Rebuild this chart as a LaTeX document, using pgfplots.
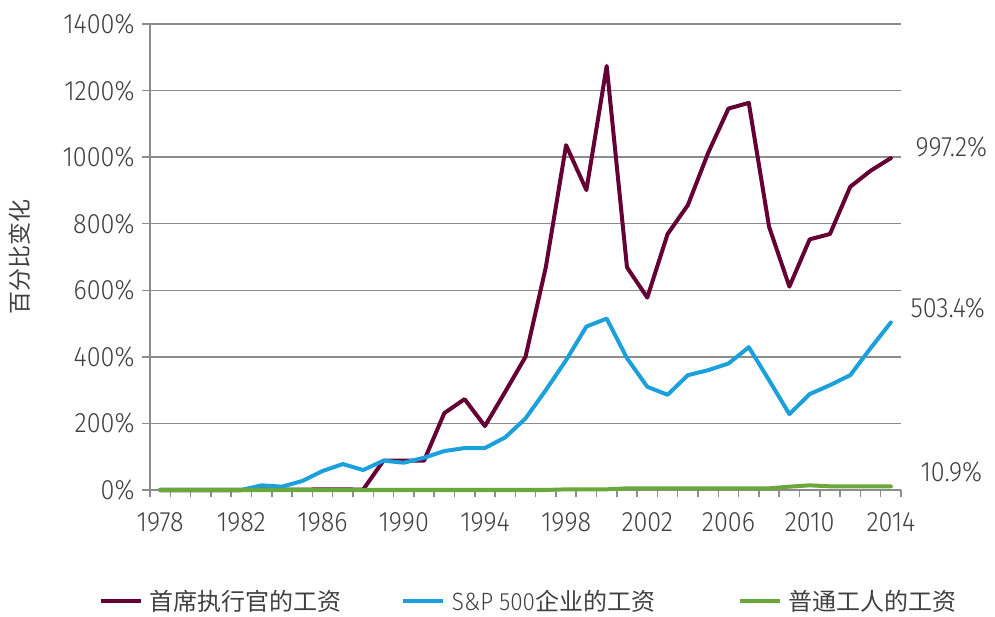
\documentclass[border=0pt]{standalone}
\usepackage{pgfplots}
\pgfplotsset{compat=1.18}
\usepackage{fontspec}
\setmainfont{Fira Sans Light}[FakeStretch=0.9]
\newfontfamily\cjk{Noto Sans CJK SC}
\definecolor{ceo}{RGB}{100,0,52}
\definecolor{sp}{RGB}{27,160,220}
\definecolor{wk}{RGB}{106,168,60}
\definecolor{txt}{RGB}{64,64,64}
\definecolor{gridc}{RGB}{140,140,140}
\newcommand\numfont{\fontsize{28bp}{32bp}\selectfont\color{txt}}
\newcommand\cjkfont{\fontsize{23bp}{27bp}\selectfont\cjk\color{txt}}
\newcommand\legfont{\fontsize{24bp}{27bp}\selectfont\cjk\color{txt}}
\begin{document}
\begin{tikzpicture}
\path[use as bounding box] (0,0) rectangle (995bp,617bp);
\begin{axis}[
  at={(150bp,127bp)}, anchor=south west,
  scale only axis, width=751bp, height=466bp,
  xmin=1977.5, xmax=2014.5, ymin=0, ymax=1400,
  clip=false,
  axis x line*=bottom, axis y line*=left,
  axis line style={gridc, line width=1.5bp},
  ytick={0,200,...,1400},
  yticklabel={\pgfmathprintnumber{\tick}\%},
  xtick={1978,1982,...,2014},
  minor xtick={1977.5,1978.5,...,2014.5},
  tick align=outside,
  major tick length=8bp, minor tick length=7bp,
  x tick style={draw=none},
  minor x tick style={draw=gridc, line width=1.5bp},
  y tick style={gridc, line width=1.5bp},
  ymajorgrids, grid style={gridc, line width=1.5bp},
  /pgf/number format/1000 sep={},
  /pgf/number format/assume math mode=true,
  ticklabel style={font=\numfont},
  xticklabel style={yshift=-11bp},
  yticklabel style={xshift=-4bp},
  ylabel={\cjkfont 百分比变化},
  ylabel style={at={(axis description cs:-0.173,0.5)}, anchor=center},
  legend columns=3,
  legend cell align=left,
  legend style={at={(axis description cs:-0.0680,-0.2390)}, anchor=west,
    draw=none, fill=none, inner sep=0pt, outer sep=0pt,
    /tikz/every even column/.style={column sep=0pt},
    nodes={inner sep=0pt, anchor=west}},
  legend image code/.code={\draw[#1, line width=4bp, line cap=butt] (0bp,0bp) -- (40bp,0bp); \path[draw=none] (49bp,0bp) -- (49bp,0bp);},
  every axis plot/.append style={line width=4bp, line join=round, line cap=round},
]
\addplot[ceo] coordinates {
(1978,0) (1979,0) (1980,0) (1981,0) (1982,0) (1983,2) (1984,1) (1985,1) (1986,2) (1987,2)
(1988,1) (1989,88) (1990,88) (1991,88) (1992,231) (1993,273) (1994,192) (1995,295) (1996,400) (1997,669)
(1998,1036) (1999,901) (2000,1274) (2001,669) (2002,578) (2003,769) (2004,856) (2005,1013) (2006,1146) (2007,1163)
(2008,791) (2009,611) (2010,753) (2011,769) (2012,911) (2013,959) (2014,997.2)};
\addlegendentry{\makebox[251bp][l]{\legfont 首席执行官的工资}}
\addplot[sp] coordinates {
(1978,0) (1979,0) (1980,0) (1981,0) (1982,0) (1983,14) (1984,10) (1985,27) (1986,57) (1987,78)
(1988,60) (1989,88) (1990,82) (1991,97) (1992,117) (1993,126) (1994,126) (1995,158) (1996,215) (1997,300)
(1998,390) (1999,491) (2000,515) (2001,396) (2002,310) (2003,286) (2004,345) (2005,360) (2006,380) (2007,429)
(2008,330) (2009,228) (2010,288) (2011,315) (2012,345) (2013,426) (2014,503.4)};
\addlegendentry{\makebox[286bp][l]{\fontsize{25bp}{27bp}\selectfont\color{txt}S\&P 500{\legfont 企业的工资}}}
\addplot[wk] coordinates {
(1978,0) (1979,0) (1980,0) (1981,0) (1982,0) (1983,0) (1984,0) (1985,0) (1986,0) (1987,0)
(1988,0) (1989,0) (1990,0) (1991,0) (1992,0) (1993,0) (1994,0) (1995,0) (1996,0) (1997,0)
(1998,2) (1999,2) (2000,2) (2001,5) (2002,5) (2003,5) (2004,5) (2005,5) (2006,5) (2007,5)
(2008,5) (2009,10) (2010,14) (2011,11) (2012,11) (2013,11) (2014,10.9)};
\addlegendentry{\legfont 普通工人的工资}
\node[anchor=west, font=\numfont, xshift=11bp, yshift=11bp] at (axis cs:2014.5,997.2) {997.2\%};
\node[anchor=west, font=\numfont, xshift=6bp, yshift=14bp] at (axis cs:2014.5,503.4) {503.4\%};
\node[anchor=west, font=\numfont, xshift=16bp, yshift=14bp] at (axis cs:2014.5,10.9) {10.9\%};
\end{axis}
\end{tikzpicture}
\end{document}
